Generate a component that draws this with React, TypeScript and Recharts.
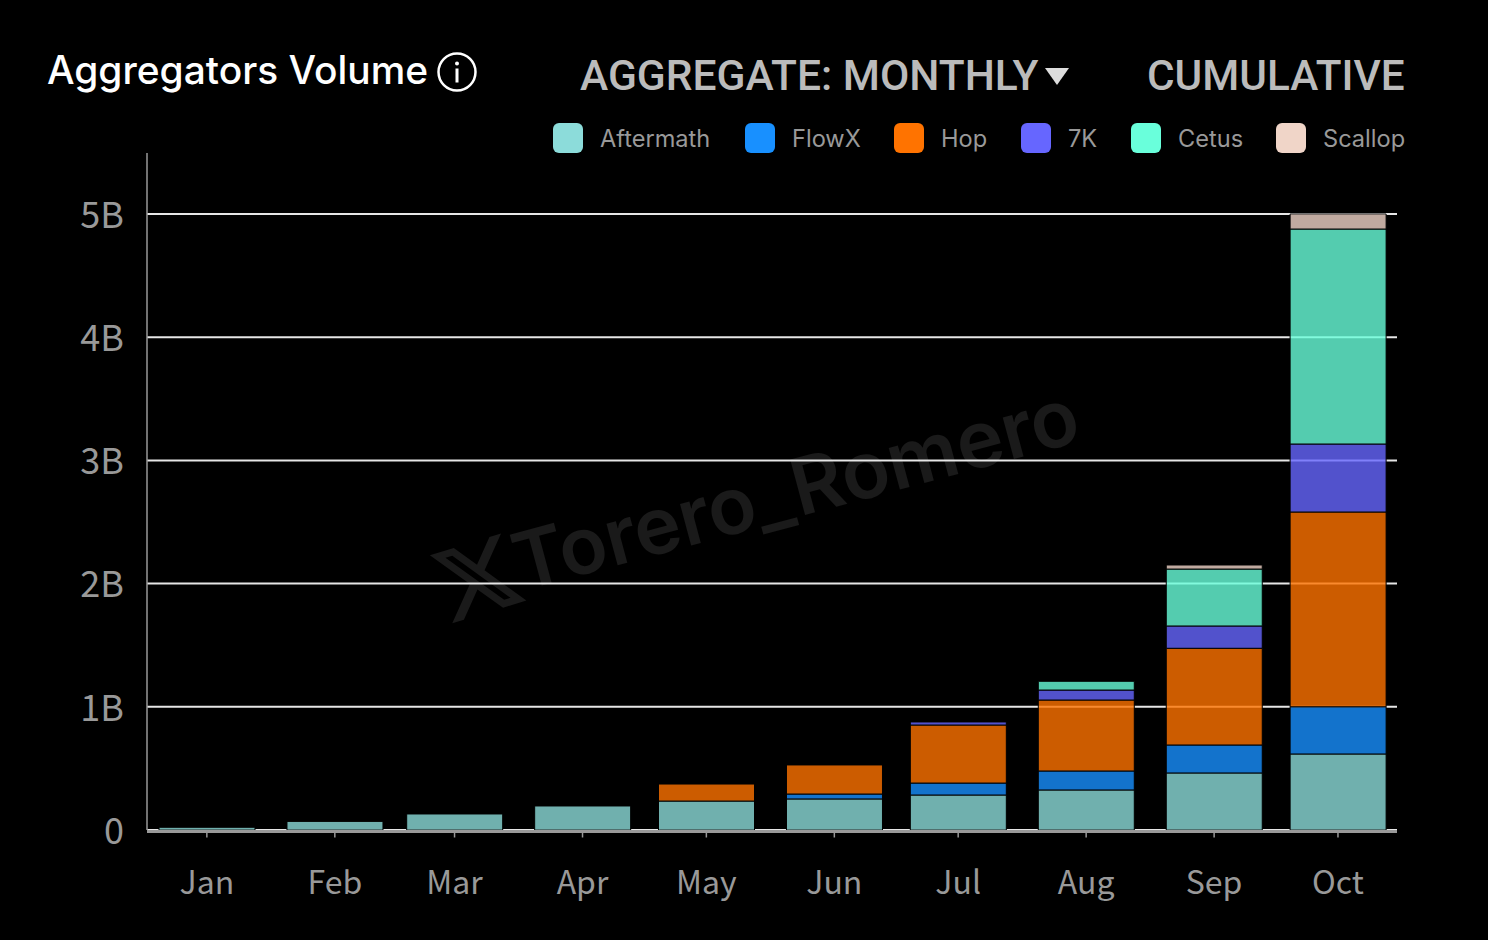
import React from 'react';
import { BarChart, Bar, XAxis, YAxis, CartesianGrid } from 'recharts';

// time axis: days since Jan 1 of a leap year, so month spacing is uneven like the original
const months = ['Jan', 'Feb', 'Mar', 'Apr', 'May', 'Jun', 'Jul', 'Aug', 'Sep', 'Oct'];
const dayOffsets = [0, 31, 60, 91, 121, 152, 182, 213, 244, 274];

// monthly volume per aggregator, in billions
const aftermath = [0.022, 0.07, 0.13, 0.195, 0.235, 0.252, 0.284, 0.325, 0.463, 0.617];
const flowX = [0, 0, 0, 0, 0, 0.04, 0.097, 0.154, 0.227, 0.383];
const hop = [0, 0, 0, 0, 0.138, 0.236, 0.471, 0.576, 0.785, 1.581];
const sevenK = [0, 0, 0, 0, 0, 0, 0.025, 0.081, 0.181, 0.552];
const cetus = [0, 0, 0, 0, 0, 0, 0, 0.071, 0.462, 1.745];
const scallop = [0, 0, 0, 0, 0, 0, 0, 0, 0.033, 0.122];

const yTicks = [0, 1, 2, 3, 4, 5];

const series = [
    { key: 'aftermath', name: 'Aftermath', color: '#8CDCDA', values: aftermath, legendX: 553 },
    { key: 'flowX', name: 'FlowX', color: '#1890FF', values: flowX, legendX: 745 },
    { key: 'hop', name: 'Hop', color: '#FF7300', values: hop, legendX: 894 },
    { key: 'sevenK', name: '7K', color: '#6666FF', values: sevenK, legendX: 1021 },
    { key: 'cetus', name: 'Cetus', color: '#69FFDB', values: cetus, legendX: 1131 },
    { key: 'scallop', name: 'Scallop', color: '#F0D5C8', values: scallop, legendX: 1276 },
];

const chartData = months.map((month, i) => {
    const row: Record<string, string | number> = { month, day: dayOffsets[i] };
    series.forEach(s => {
        row[s.key] = s.values[i];
    });
    return row;
});

const tickFont = '"Noto Sans CJK SC", "Noto Sans", sans-serif';

const App: React.FC = () => {
    return (
        <div style={{ position: 'absolute', left: 0, top: 0, width: 1488, height: 940, background: '#000', overflow: 'hidden', fontFamily: 'Inter, sans-serif' }}>
            {/* watermark sits under the chart */}
            <div style={{ position: 'absolute', left: 514, top: 518, color: '#1a1a1a', fontSize: 79, fontWeight: 600, whiteSpace: 'nowrap', transform: 'rotate(-15deg)', transformOrigin: '0 50%', lineHeight: '90px' }}>
                Torero_Romero
            </div>
            <svg width={88} height={88} viewBox="0 0 24 24" style={{ position: 'absolute', left: 434, top: 534, transform: 'rotate(-17deg)' }}>
                <path fill="#1a1a1a" d="M18.244 2.25h3.308l-7.227 8.26 8.502 11.24H16.17l-5.214-6.817L4.99 21.75H1.68l7.73-8.835L1.254 2.25H8.08l4.713 6.231zm-1.161 17.52h1.833L7.084 4.126H5.117z" />
            </svg>

            <div style={{ position: 'absolute', left: 0, top: 0 }}>
                <BarChart width={1488} height={940} data={chartData} margin={{ top: 153, right: 91, bottom: 50, left: 87 }}>
                    <CartesianGrid vertical={false} horizontalValues={yTicks} stroke="#e6e6e6" strokeWidth={2} />
                    <XAxis
                        dataKey="day"
                        type="number"
                        domain={[-14.5, 288.3]}
                        allowDataOverflow
                        ticks={dayOffsets}
                        interval={0}
                        height={60}
                        tickFormatter={(d: number) => months[dayOffsets.indexOf(d)]}
                        axisLine={{ stroke: '#999', strokeWidth: 3, transform: 'translate(0 1.5)' }}
                        tickLine={{ stroke: '#999', strokeWidth: 1.5, transform: 'translate(0 1.5)' }}
                        tickSize={6}
                        tickMargin={35}
                        tick={{ fill: '#999', fontSize: 32, fontFamily: tickFont }}
                    />
                    <YAxis
                        type="number"
                        width={60}
                        domain={[0, 5.495]}
                        allowDataOverflow
                        ticks={yTicks}
                        interval={0}
                        tickFormatter={(v: number) => (v === 0 ? '0' : `${v}B`)}
                        axisLine={{ stroke: '#999', strokeWidth: 1.5 }}
                        tickLine={false}
                        tickMargin={17}
                        dy={1}
                        tick={{ fill: '#999', fontSize: 36, fontFamily: tickFont }}
                    />
                    {series.map(s => (
                        <Bar
                            key={s.key}
                            dataKey={s.key}
                            name={s.name}
                            stackId="total"
                            barSize={96}
                            fill={s.color}
                            fillOpacity={0.8}
                            stroke="#000"
                            strokeWidth={1}
                            isAnimationActive={false}
                        />
                    ))}
                </BarChart>
            </div>

            <div style={{ position: 'absolute', left: 47, top: 45, color: '#fff', fontSize: 38.9, fontWeight: 500, lineHeight: '50px', whiteSpace: 'nowrap' }}>
                Aggregators Volume
            </div>
            <svg width={42} height={42} viewBox="0 0 42 42" style={{ position: 'absolute', left: 436, top: 51 }}>
                <circle cx={21} cy={21} r={18.5} fill="none" stroke="#fff" strokeWidth={2.5} />
                <circle cx={21} cy={12.5} r={2} fill="#fff" />
                <rect x={19.5} y={17.5} width={3} height={14} fill="#fff" />
            </svg>

            <div style={{ position: 'absolute', left: 580, top: 51, color: '#bbb', fontSize: 42.5, fontWeight: 500, lineHeight: '50px', whiteSpace: 'nowrap', fontFamily: 'Roboto, sans-serif' }}>
                AGGREGATE: MONTHLY
            </div>
            <svg width={24} height={18} style={{ position: 'absolute', left: 1045, top: 68 }}>
                <polygon points="0,0 24,0 12,17" fill="#ddd" />
            </svg>
            <div style={{ position: 'absolute', left: 1147, top: 51, color: '#bbb', fontSize: 42.3, fontWeight: 500, lineHeight: '50px', whiteSpace: 'nowrap', fontFamily: 'Roboto, sans-serif' }}>
                CUMULATIVE
            </div>

            {series.map(s => (
                <div key={s.key} style={{ position: 'absolute', left: s.legendX, top: 124, display: 'flex', alignItems: 'center', height: 30 }}>
                    <span style={{ width: 30, height: 30, borderRadius: 6, background: s.color, display: 'block', marginTop: -2 }} />
                    <span style={{ marginLeft: 17, color: '#999', fontSize: 23.6, lineHeight: '32px', whiteSpace: 'nowrap' }}>{s.name}</span>
                </div>
            ))}
        </div>
    );
};

export default App;
